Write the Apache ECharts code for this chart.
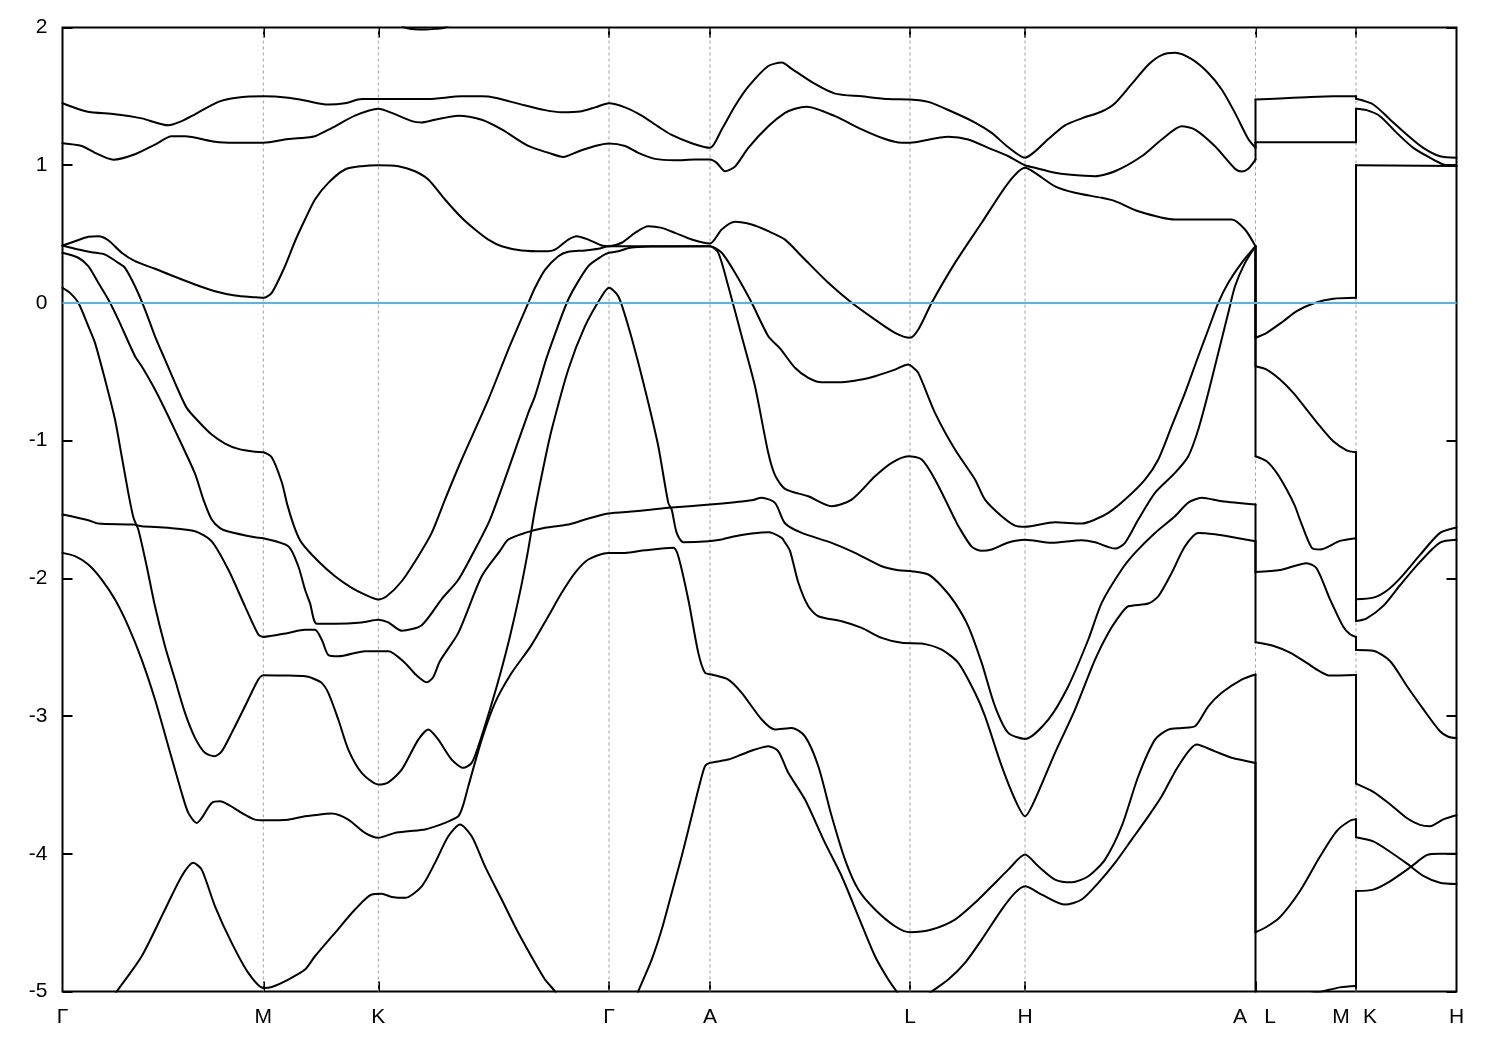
<!DOCTYPE html>
<html>
<head>
<meta charset="utf-8">
<script src="https://cdn.jsdelivr.net/npm/echarts/dist/echarts.min.js"></script>
<style>
html,body{margin:0;padding:0;background:#fff;}
#chart{width:1500px;height:1050px;}
</style>
</head>
<body>
<div id="chart"></div>
<script>
// k-path positions of the high-symmetry points (gridlines / ticks)
const kTicks = [2.008, 3.158, 5.465, 6.475, 8.475, 9.625, 11.93, 12.935];
const kMax = 13.94;
// tick-label positions and names
const labelPos = [0, 2.008, 3.158, 5.465, 6.475, 8.475, 9.625, 11.775, 12.075, 12.785, 13.075, 13.94];
const labelNames = ['Γ','M','K','Γ','A','L','H','A','L','M','K','H'];
const eMin = -5, eMax = 2;

// bands: [k, E(eV)]
const band1 = [[0,1.45],[0.242,1.39],[0.525,1.37],[0.792,1.34],[1.058,1.29],[1.192,1.32],[1.325,1.37],[1.558,1.46],[1.742,1.49],[2.008,1.50],[2.258,1.49],[2.425,1.47],[2.658,1.44],[2.825,1.45],[2.992,1.48],[3.158,1.48],[3.658,1.48],[3.992,1.50],[4.192,1.50],[4.325,1.49],[4.592,1.44],[4.825,1.40],[4.992,1.385],[5.175,1.39],[5.325,1.42],[5.465,1.45],[5.625,1.42],[5.792,1.36],[5.958,1.28],[6.092,1.22],[6.292,1.16],[6.475,1.126],[6.592,1.26],[6.725,1.43],[6.858,1.57],[7.058,1.72],[7.192,1.745],[7.292,1.70],[7.525,1.59],[7.725,1.52],[7.992,1.50],[8.258,1.48],[8.475,1.477],[8.658,1.46],[8.892,1.39],[9.125,1.31],[9.292,1.235],[9.458,1.13],[9.625,1.054],[9.725,1.10],[9.858,1.19],[10.025,1.29],[10.192,1.34],[10.392,1.39],[10.525,1.45],[10.692,1.59],[10.858,1.73],[10.992,1.80],[11.125,1.816],[11.292,1.77],[11.458,1.67],[11.592,1.55],[11.725,1.38],[11.858,1.19],[11.93,1.126],
 [11.93,1.477],[12.175,1.484],[12.442,1.494],[12.708,1.501],[12.935,1.501],
 [12.935,1.482],[13.108,1.441],[13.275,1.332],[13.442,1.223],[13.608,1.126],[13.775,1.065],[13.94,1.054]];

const band2 = [[0,1.16],[0.192,1.14],[0.325,1.09],[0.508,1.04],[0.725,1.08],[0.925,1.15],[1.092,1.21],[1.225,1.21],[1.525,1.17],[1.725,1.163],[2.008,1.163],[2.255,1.19],[2.425,1.20],[2.525,1.21],[2.692,1.27],[2.925,1.36],[3.158,1.41],[3.292,1.38],[3.492,1.32],[3.592,1.31],[3.725,1.33],[3.958,1.36],[4.192,1.33],[4.392,1.26],[4.658,1.14],[4.858,1.09],[5.008,1.06],[5.158,1.10],[5.325,1.14],[5.465,1.158],[5.625,1.14],[5.758,1.09],[5.925,1.046],[6.125,1.036],[6.325,1.041],[6.475,1.041],[6.542,1.017],[6.625,0.956],[6.725,0.99],[6.858,1.126],[7.058,1.283],[7.225,1.38],[7.325,1.41],[7.442,1.424],[7.725,1.356],[7.992,1.26],[8.225,1.19],[8.392,1.163],[8.525,1.167],[8.858,1.206],[9.058,1.187],[9.258,1.126],[9.458,1.065],[9.625,1.0],[9.725,0.981],[9.925,0.945],[10.058,0.932],[10.325,0.92],[10.525,0.956],[10.792,1.065],[10.992,1.187],[11.192,1.283],[11.325,1.259],[11.525,1.138],[11.725,0.975],[11.79,0.955],[11.858,0.975],[11.93,1.041],
 [11.93,1.167],[12.935,1.167],
 [12.935,1.41],[13.042,1.40],[13.175,1.356],[13.342,1.235],[13.508,1.126],[13.675,1.054],[13.808,1.005],[13.94,0.993]];

const band3 = [[0,0.417],[0.125,0.448],[0.258,0.48],[0.358,0.484],[0.458,0.455],[0.592,0.364],[0.725,0.303],[0.925,0.248],[1.092,0.199],[1.325,0.134],[1.525,0.085],[1.725,0.054],[1.925,0.041],[2.008,0.037],[2.092,0.073],[2.225,0.267],[2.325,0.448],[2.425,0.606],[2.525,0.751],[2.658,0.872],[2.825,0.969],[2.992,0.993],[3.158,1.0],[3.358,0.993],[3.525,0.956],[3.658,0.896],[3.825,0.751],[3.992,0.618],[4.125,0.533],[4.258,0.46],[4.392,0.412],[4.592,0.381],[4.825,0.375],[4.925,0.387],[5.058,0.46],[5.142,0.485],[5.258,0.46],[5.392,0.417],[5.465,0.412],[5.592,0.437],[5.725,0.509],[5.858,0.557],[5.992,0.545],[6.125,0.509],[6.292,0.46],[6.475,0.431],[6.592,0.533],[6.725,0.589],[6.892,0.569],[7.058,0.521],[7.225,0.46],[7.392,0.339],[7.658,0.146],[7.892,0.001],[8.125,-0.121],[8.325,-0.217],[8.475,-0.253],[8.558,-0.193],[8.692,0.001],[8.925,0.291],[9.192,0.582],[9.458,0.872],[9.625,0.981],[9.725,0.945],[9.925,0.847],[10.125,0.80],[10.392,0.763],[10.525,0.739],[10.758,0.666],[11.125,0.606],[11.692,0.606],[11.825,0.533],[11.93,0.412],
 [11.93,-0.253],[12.042,-0.217],[12.208,-0.133],[12.342,-0.06],[12.508,-0.004],[12.708,0.03],[12.935,0.037],
 [12.935,1.0],[13.94,0.995]];

const band4 = [[0,0.417],[0.158,0.388],[0.292,0.368],[0.425,0.351],[0.558,0.291],[0.625,0.255],[0.725,0.121],[0.825,-0.048],[0.925,-0.242],[1.025,-0.411],[1.125,-0.58],[1.242,-0.762],[1.358,-0.859],[1.492,-0.956],[1.625,-1.021],[1.758,-1.06],[1.925,-1.081],[2.008,-1.084],[2.092,-1.12],[2.192,-1.30],[2.25,-1.47],[2.325,-1.64],[2.392,-1.742],[2.558,-1.876],[2.725,-1.985],[2.892,-2.069],[3.025,-2.118],[3.158,-2.154],[3.242,-2.13],[3.392,-2.021],[3.558,-1.839],[3.692,-1.67],[3.825,-1.428],[3.992,-1.137],[4.258,-0.702],[4.458,-0.339],[4.658,0.0],[4.725,0.11],[4.825,0.24],[4.958,0.339],[5.058,0.371],[5.225,0.381],[5.358,0.393],[5.465,0.412],[5.875,0.412],[6.475,0.412],[6.592,0.364],[6.725,0.219],[6.892,0.001],[7.058,-0.242],[7.175,-0.33],[7.325,-0.471],[7.458,-0.544],[7.592,-0.576],[7.792,-0.576],[7.992,-0.556],[8.125,-0.532],[8.325,-0.484],[8.458,-0.447],[8.492,-0.46],[8.558,-0.508],[8.725,-0.798],[8.925,-1.065],[9.125,-1.282],[9.225,-1.428],[9.392,-1.549],[9.525,-1.617],[9.625,-1.626],[9.925,-1.593],[10.192,-1.602],[10.325,-1.573],[10.458,-1.525],[10.625,-1.428],[10.825,-1.283],[10.958,-1.137],[11.092,-0.895],[11.225,-0.653],[11.358,-0.387],[11.458,-0.193],[11.558,0.0],[11.658,0.146],[11.792,0.291],[11.93,0.412],
 [11.93,-0.46],[12.042,-0.484],[12.175,-0.556],[12.308,-0.653],[12.442,-0.774],[12.575,-0.895],[12.708,-1.004],[12.842,-1.07],[12.935,-1.084],
 [12.935,-2.152],[13.108,-2.14],[13.242,-2.09],[13.375,-2.0],[13.575,-1.83],[13.775,-1.67],[13.94,-1.63]];

const band5 = [[0,0.364],[0.158,0.328],[0.258,0.267],[0.358,0.146],[0.458,0.025],[0.558,-0.121],[0.725,-0.387],[0.792,-0.46],[0.925,-0.629],[1.058,-0.823],[1.192,-1.028],[1.325,-1.24],[1.41,-1.43],[1.492,-1.573],[1.575,-1.635],[1.658,-1.66],[1.925,-1.702],[2.008,-1.709],[2.258,-1.767],[2.358,-1.912],[2.425,-2.081],[2.475,-2.18],[2.542,-2.33],[2.725,-2.33],[2.992,-2.32],[3.158,-2.30],[3.258,-2.32],[3.392,-2.38],[3.592,-2.34],[3.792,-2.15],[3.958,-2.01],[4.125,-1.79],[4.275,-1.573],[4.458,-1.21],[4.658,-0.798],[4.725,-0.677],[4.825,-0.435],[4.858,-0.362],[5.058,0.025],[5.258,0.267],[5.392,0.339],[5.465,0.364],[5.558,0.375],[5.675,0.40],[5.875,0.41],[6.475,0.412],[6.558,0.364],[6.658,0.121],[6.792,-0.242],[6.925,-0.605],[7.058,-1.09],[7.125,-1.25],[7.225,-1.35],[7.458,-1.404],[7.692,-1.476],[7.892,-1.428],[8.125,-1.259],[8.292,-1.161],[8.458,-1.113],[8.592,-1.137],[8.725,-1.282],[8.925,-1.573],[8.958,-1.62],[9.092,-1.77],[9.192,-1.80],[9.292,-1.79],[9.458,-1.74],[9.625,-1.72],[9.892,-1.742],[10.192,-1.723],[10.325,-1.738],[10.525,-1.784],[10.625,-1.742],[10.758,-1.573],[10.925,-1.379],[11.125,-1.234],[11.258,-1.113],[11.358,-0.919],[11.458,-0.653],[11.558,-0.362],[11.658,-0.072],[11.725,0.121],[11.825,0.291],[11.93,0.412],
 [11.93,-1.113],[12.042,-1.15],[12.142,-1.234],[12.242,-1.355],[12.325,-1.476],[12.375,-1.575],[12.492,-1.778],[12.575,-1.791],[12.775,-1.728],[12.935,-1.708],
 [12.935,-2.31],[13.042,-2.29],[13.208,-2.20],[13.375,-2.05],[13.575,-1.88],[13.775,-1.74],[13.94,-1.72]];

const band6 = [[0,0.11],[0.075,0.073],[0.158,0.001],[0.258,-0.169],[0.325,-0.29],[0.425,-0.556],[0.525,-0.847],[0.592,-1.113],[0.658,-1.379],[0.71,-1.56],[0.76,-1.65],[0.842,-1.912],[0.925,-2.203],[1.025,-2.493],[1.125,-2.735],[1.225,-2.977],[1.325,-3.158],[1.425,-3.267],[1.518,-3.292],[1.592,-3.256],[1.692,-3.122],[1.825,-2.929],[1.958,-2.735],[2.008,-2.704],[2.258,-2.706],[2.425,-2.711],[2.492,-2.723],[2.592,-2.759],[2.658,-2.832],[2.758,-3.025],[2.858,-3.243],[2.992,-3.412],[3.158,-3.497],[3.258,-3.481],[3.392,-3.389],[3.558,-3.171],[3.658,-3.098],[3.758,-3.171],[3.892,-3.316],[4.008,-3.376],[4.092,-3.34],[4.158,-3.219],[4.275,-2.95],[4.375,-2.70],[4.475,-2.42],[4.575,-2.10],[4.655,-1.80],[4.725,-1.50],[4.825,-1.137],[4.892,-0.919],[5.058,-0.483],[5.225,-0.169],[5.392,0.049],[5.465,0.11],[5.558,0.049],[5.658,-0.169],[5.758,-0.435],[5.858,-0.725],[5.958,-1.041],[6.058,-1.452],[6.092,-1.501],[6.142,-1.67],[6.208,-1.738],[6.458,-1.731],[6.592,-1.718],[6.725,-1.694],[6.892,-1.675],[7.058,-1.665],[7.192,-1.706],[7.225,-1.74],[7.275,-1.80],[7.358,-2.03],[7.458,-2.203],[7.558,-2.275],[7.792,-2.312],[7.992,-2.36],[8.192,-2.432],[8.392,-2.468],[8.592,-2.473],[8.792,-2.517],[8.958,-2.614],[9.125,-2.831],[9.225,-3.001],[9.392,-3.364],[9.525,-3.606],[9.625,-3.728],[9.725,-3.606],[9.925,-3.267],[10.125,-2.953],[10.325,-2.59],[10.458,-2.396],[10.592,-2.251],[10.658,-2.203],[10.858,-2.183],[10.958,-2.13],[11.092,-1.96],[11.225,-1.767],[11.358,-1.67],[11.525,-1.68],[11.692,-1.699],[11.93,-1.731],
 [11.93,-2.464],[12.105,-2.489],[12.275,-2.539],[12.442,-2.614],[12.575,-2.676],[12.675,-2.706],[12.935,-2.701],
 [12.935,-3.49],[13.108,-3.55],[13.275,-3.64],[13.442,-3.74],[13.575,-3.79],[13.675,-3.80],[13.808,-3.75],[13.94,-3.72]];

const band7 = [[0,-1.537],[0.258,-1.578],[0.358,-1.602],[0.708,-1.609],[0.792,-1.622],[1.058,-1.633],[1.325,-1.658],[1.492,-1.731],[1.658,-1.936],[1.825,-2.203],[1.958,-2.408],[2.008,-2.425],[2.258,-2.396],[2.425,-2.374],[2.525,-2.374],[2.595,-2.45],[2.658,-2.556],[2.758,-2.566],[3.025,-2.529],[3.258,-2.529],[3.425,-2.614],[3.535,-2.70],[3.642,-2.754],[3.705,-2.72],[3.775,-2.60],[3.958,-2.396],[4.192,-1.985],[4.375,-1.80],[4.458,-1.718],[4.625,-1.67],[4.825,-1.633],[5.058,-1.609],[5.225,-1.573],[5.458,-1.529],[5.725,-1.513],[6.058,-1.488],[6.475,-1.464],[6.725,-1.447],[6.892,-1.433],[6.992,-1.415],[7.125,-1.452],[7.225,-1.60],[7.392,-1.67],[7.692,-1.742],[7.925,-1.815],[8.192,-1.912],[8.358,-1.941],[8.492,-1.948],[8.658,-1.972],[8.792,-2.057],[8.925,-2.178],[9.058,-2.348],[9.192,-2.614],[9.325,-2.929],[9.458,-3.122],[9.625,-3.166],[9.858,-3.025],[10.058,-2.783],[10.258,-2.444],[10.392,-2.178],[10.592,-1.936],[10.725,-1.815],[10.925,-1.67],[11.125,-1.549],[11.258,-1.45],[11.392,-1.415],[11.592,-1.44],[11.93,-1.464],
 [11.93,-1.953],[12.175,-1.94],[12.442,-1.89],[12.542,-1.928],[12.675,-2.152],[12.808,-2.352],[12.875,-2.406],[12.935,-2.426],
 [12.935,-2.52],[13.108,-2.526],[13.275,-2.60],[13.442,-2.78],[13.608,-2.95],[13.775,-3.11],[13.858,-3.15],[13.94,-3.16]];

const band8 = [[0,-1.815],[0.125,-1.839],[0.258,-1.90],[0.392,-2.009],[0.525,-2.154],[0.658,-2.348],[0.792,-2.59],[0.925,-2.88],[1.058,-3.219],[1.192,-3.558],[1.258,-3.703],[1.342,-3.776],[1.392,-3.74],[1.492,-3.631],[1.575,-3.619],[1.658,-3.643],[1.792,-3.703],[1.925,-3.752],[2.008,-3.757],[2.258,-3.752],[2.425,-3.728],[2.492,-3.722],[2.692,-3.708],[2.858,-3.752],[3.025,-3.848],[3.158,-3.884],[3.325,-3.848],[3.458,-3.836],[3.625,-3.824],[3.825,-3.776],[3.958,-3.728],[4.005,-3.65],[4.058,-3.51],[4.192,-3.171],[4.325,-2.904],[4.492,-2.686],[4.685,-2.49],[4.858,-2.275],[4.992,-2.105],[5.125,-1.96],[5.258,-1.863],[5.458,-1.815],[5.625,-1.815],[5.825,-1.796],[6.108,-1.778],[6.158,-1.839],[6.258,-2.154],[6.358,-2.541],[6.425,-2.686],[6.492,-2.698],[6.658,-2.735],[6.792,-2.831],[6.992,-3.025],[7.125,-3.098],[7.292,-3.086],[7.425,-3.147],[7.558,-3.364],[7.692,-3.728],[7.825,-4.042],[7.958,-4.26],[8.125,-4.405],[8.325,-4.526],[8.475,-4.57],[8.692,-4.55],[8.925,-4.478],[9.125,-4.356],[9.292,-4.236],[9.458,-4.115],[9.625,-4.006],[9.758,-4.091],[9.925,-4.187],[10.092,-4.207],[10.258,-4.163],[10.425,-4.042],[10.592,-3.80],[10.758,-3.437],[10.925,-3.171],[11.058,-3.098],[11.192,-3.086],[11.325,-3.074],[11.458,-2.929],[11.592,-2.831],[11.792,-2.735],[11.93,-2.698],
 [11.93,-4.57],[12.042,-4.53],[12.175,-4.46],[12.375,-4.27],[12.575,-4.02],[12.742,-3.835],[12.875,-3.76],[12.935,-3.75],
 [12.935,-3.88],[13.108,-3.91],[13.275,-3.985],[13.442,-4.07],[13.608,-4.16],[13.775,-4.21],[13.94,-4.22]];

const band9 = [[0.375,-5.17],[0.542,-5.0],[0.792,-4.744],[1.025,-4.405],[1.192,-4.163],[1.308,-4.066],[1.392,-4.115],[1.525,-4.381],[1.692,-4.647],[1.858,-4.865],[2.008,-4.974],[2.092,-4.967],[2.258,-4.913],[2.425,-4.841],[2.525,-4.744],[2.725,-4.574],[2.925,-4.405],[3.092,-4.296],[3.192,-4.291],[3.292,-4.313],[3.425,-4.32],[3.592,-4.236],[3.725,-4.066],[3.858,-3.873],[3.975,-3.788],[4.092,-3.873],[4.225,-4.091],[4.392,-4.332],[4.558,-4.574],[4.725,-4.792],[4.825,-4.913],[4.925,-5.0],[5.075,-5.2],[5.375,-5.5],[5.655,-5.2],[5.758,-4.998],[5.892,-4.768],[5.992,-4.55],[6.092,-4.284],[6.192,-4.018],[6.292,-3.728],[6.358,-3.534],[6.425,-3.364],[6.475,-3.34],[6.658,-3.316],[6.792,-3.279],[6.925,-3.243],[7.058,-3.219],[7.158,-3.256],[7.258,-3.412],[7.425,-3.606],[7.625,-3.921],[7.792,-4.163],[7.958,-4.454],[8.125,-4.744],[8.258,-4.913],[8.342,-5.0],[8.475,-5.12],[8.692,-5.0],[8.858,-4.913],[9.025,-4.792],[9.192,-4.623],[9.392,-4.405],[9.525,-4.284],[9.625,-4.236],[9.792,-4.296],[10.025,-4.369],[10.192,-4.332],[10.358,-4.211],[10.525,-4.066],[10.692,-3.897],[10.858,-3.728],[10.992,-3.582],[11.158,-3.364],[11.342,-3.207],[11.525,-3.256],[11.692,-3.303],[11.93,-3.34],
 [11.93,-5.12],[12.275,-5.05],[12.595,-5.0],[12.775,-4.97],[12.935,-4.96],
 [12.935,-4.27],[13.108,-4.26],[13.275,-4.20],[13.475,-4.10],[13.642,-4.01],[13.775,-4.0],[13.94,-4.0]];

const bandTop = [[3.325,2.05],[3.425,2.0],[3.525,1.987],[3.625,1.985],[3.725,1.99],[3.825,2.0],[3.925,2.05]];

const bands = [band1, band2, band3, band4, band5, band6, band7, band8, band9, bandTop];

const chart = echarts.init(document.getElementById('chart'), null, {renderer: 'canvas'});
const FONT = '"Liberation Sans", Arial, Helvetica, sans-serif';

const series = [];
// dotted gridlines at the high-symmetry points
kTicks.forEach(v => {
  series.push({
    type: 'line', data: [[v, eMin], [v, eMax]], symbol: 'none', silent: true, z: 1,
    lineStyle: {color: '#a0a0a0', width: 1, type: [3, 3]}, animation: false
  });
});
// each band: smooth pieces between path discontinuities, straight jumps at the discontinuities
const bandLine = {color: '#000', width: 2, join: 'round', cap: 'round'};
bands.forEach(b => {
  let piece = [b[0]];
  const pieces = [], jumps = [];
  for (let i = 1; i < b.length; i++) {
    if (b[i][0] === b[i - 1][0]) {
      pieces.push(piece);
      jumps.push([b[i - 1], b[i]]);
      piece = [b[i]];
    } else {
      piece.push(b[i]);
    }
  }
  pieces.push(piece);
  pieces.forEach(p => series.push({
    type: 'line', data: p, symbol: 'none', showSymbol: false, silent: true, z: 3,
    smooth: 0.25, lineStyle: bandLine, animation: false
  }));
  jumps.forEach(j => series.push({
    type: 'line', data: j, symbol: 'none', showSymbol: false, silent: true, z: 3,
    lineStyle: bandLine, animation: false
  }));
});
// Fermi level
series.push({
  type: 'line', data: [[0, 0], [kMax, 0]], symbol: 'none', silent: true, z: 4,
  lineStyle: {color: '#56B4E9', width: 2}, animation: false
});

const tickCommon = {show: true, inside: true, length: 10, lineStyle: {color: '#000', width: 2}};

chart.setOption({
  backgroundColor: '#fff',
  animation: false,
  grid: {left: 62.5, right: 43.5, top: 27.5, bottom: 58.5, show: true, borderColor: '#000', borderWidth: 2, backgroundColor: 'transparent'},
  xAxis: [
    {type: 'value', min: 0, max: kMax, position: 'bottom',
     axisLine: {show: false, onZero: false},
     axisTick: Object.assign({customValues: kTicks}, tickCommon),
     splitLine: {show: false},
     axisLabel: {customValues: labelPos, margin: 15, color: '#000', fontSize: 21, fontFamily: FONT,
       formatter: function (v) {
         const i = labelPos.findIndex(p => Math.abs(p - v) < 1e-6);
         return i >= 0 ? labelNames[i] : '';
       }}},
    {type: 'value', min: 0, max: kMax, position: 'top',
     axisLine: {show: false, onZero: false},
     axisTick: Object.assign({customValues: kTicks}, tickCommon),
     splitLine: {show: false}, axisLabel: {show: false}}
  ],
  yAxis: [
    {type: 'value', min: eMin, max: eMax, interval: 1, position: 'left',
     axisLine: {show: false, onZero: false}, axisTick: tickCommon, splitLine: {show: false},
     axisLabel: {margin: 15, color: '#000', fontSize: 21, fontFamily: FONT}},
    {type: 'value', min: eMin, max: eMax, interval: 1, position: 'right',
     axisLine: {show: false, onZero: false}, axisTick: tickCommon, splitLine: {show: false},
     axisLabel: {show: false}}
  ],
  series: series
});
</script>
</body>
</html>
